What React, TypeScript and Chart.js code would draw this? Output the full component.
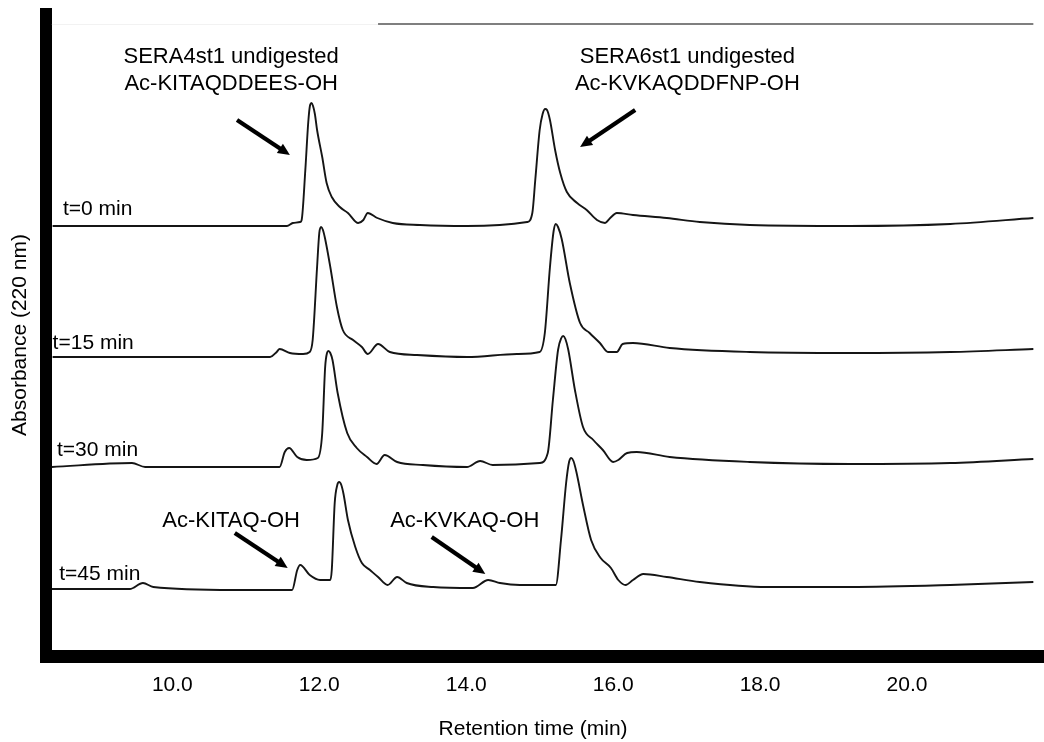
import React, { useEffect, useRef } from "react";
import { Chart, registerables } from "chart.js";

Chart.register(...registerables);

const FONT = "'Liberation Sans', Arial, Helvetica, sans-serif";

// Chromatograms: [retention time (min), absorbance above baseline (mAU)]
const trace0: [number, number][] = [
  [8.37, 0], [9.01, 0], [11.56, 0], [11.64, 1.5], [11.74, 2], [11.76, 3], [11.81, 28], [11.85, 52],
  [11.875, 60.5], [11.895, 61.5], [11.915, 60], [11.94, 56], [11.97, 48], [12.04, 34.5], [12.10, 21.5],
  [12.17, 14.5], [12.28, 9.5], [12.39, 6.5], [12.53, 1.5], [12.60, 3], [12.66, 6.5], [12.79, 4],
  [13.00, 1.5], [13.37, 0.5], [14.01, 0], [14.83, 2], [14.90, 6.5], [14.94, 23], [15.00, 48],
  [15.04, 56], [15.075, 58.5], [15.10, 58], [15.14, 53], [15.21, 38], [15.28, 26.5], [15.37, 17],
  [15.51, 11.5], [15.64, 8], [15.78, 3], [15.89, 1.5], [15.96, 4], [16.05, 6.5], [16.27, 5.5],
  [16.73, 4], [17.18, 2], [17.86, 0.5], [19.22, 0], [20.59, 1], [21.72, 4],
];
const trace15: [number, number][] = [
  [8.37, 0], [11.33, 0], [11.42, 2.5], [11.46, 4], [11.60, 2], [11.78, 1.5], [11.87, 2.5], [11.91, 8.5],
  [11.97, 45], [12.00, 62], [12.025, 65], [12.05, 63.5], [12.08, 59], [12.15, 45], [12.24, 25],
  [12.32, 13.5], [12.46, 8.5], [12.58, 5], [12.66, 1.5], [12.80, 6.5], [12.96, 2.5], [13.33, 1],
  [14.01, 0], [14.69, 1.5], [15.00, 2.5], [15.07, 12], [15.14, 45], [15.19, 63], [15.22, 66.5],
  [15.25, 65], [15.30, 59], [15.41, 37], [15.55, 17], [15.68, 12], [15.82, 7], [15.93, 2.5],
  [16.05, 2.5], [16.13, 6.5], [16.27, 7], [16.77, 4.5], [17.86, 2.5], [19.22, 2], [20.59, 2.5],
  [21.72, 4],
];
const trace30: [number, number][] = [
  [8.36, 0], [9.45, 2], [9.63, 0], [11.46, 0], [11.53, 7.5], [11.59, 9.5], [11.70, 5], [11.83, 3.5],
  [11.98, 4.5], [12.04, 17], [12.08, 50], [12.105, 57], [12.125, 58], [12.15, 57], [12.18, 53.5],
  [12.25, 37], [12.38, 17], [12.51, 9.5], [12.65, 5], [12.78, 1.5], [12.89, 6], [13.06, 2.5],
  [13.41, 1], [14.01, 0], [14.19, 3], [14.36, 1], [15.00, 2], [15.11, 7], [15.18, 33.5],
  [15.25, 58.5], [15.295, 64.5], [15.32, 65.5], [15.35, 64], [15.39, 58.5], [15.48, 38.5],
  [15.59, 20], [15.73, 13.5], [15.86, 8.5], [16.00, 2.5], [16.07, 3.5], [16.19, 7], [16.32, 7.5],
  [16.77, 5], [17.86, 2.5], [19.22, 1.5], [20.59, 2], [21.72, 4],
];
const trace45: [number, number][] = [
  [8.36, 0], [9.42, 0], [9.60, 3], [9.74, 1], [10.83, -0.5], [11.63, -0.5], [11.70, 9.5], [11.74, 12],
  [11.87, 7], [12.01, 4.5], [12.15, 4.5], [12.17, 9.5], [12.21, 43], [12.245, 52], [12.27, 53.5],
  [12.30, 52], [12.33, 47.5], [12.39, 34.5], [12.49, 21], [12.58, 13], [12.69, 9.5], [12.80, 6],
  [12.93, 2], [13.06, 6], [13.19, 3], [13.55, 1], [14.09, 0.5], [14.30, 4.5], [14.46, 3],
  [14.73, 2], [15.22, 2], [15.29, 24.5], [15.36, 53], [15.40, 63.5], [15.43, 65.5], [15.46, 64],
  [15.50, 58.5], [15.59, 42], [15.70, 24.5], [15.83, 15.5], [15.97, 10.5], [16.07, 4.5], [16.17, 2],
  [16.27, 4.5], [16.41, 7.5], [16.73, 6], [17.18, 3.5], [18.09, 1], [19.22, 1], [20.59, 2],
  [21.72, 3.5],
];

// Vertical offsets used to stack the chromatograms (mAU)
const traceOffsets = [215, 149.5, 94.5, 33.5];
const traceNames = ["t=0 min", "t=15 min", "t=30 min", "t=45 min"];
const traceLabelTime = [8.51, 8.37, 8.43, 8.46];
const traceLabelAbs = [223.5, 156.5, 103, 41];

// x axis ticks
const xTicks = [10, 12, 14, 16, 18, 20];
const xMin = 8.28;
const xMax = 21.865;
const yMin = 0;
const yMax = 321;

// Annotations: text block centres (time, absorbance)
const noteLines = [
  ["SERA4st1 undigested", "Ac-KITAQDDEES-OH"],
  ["SERA6st1 undigested", "Ac-KVKAQDDFNP-OH"],
  ["Ac-KITAQ-OH"],
  ["Ac-KVKAQ-OH"],
];
const noteTime = [10.80, 17.01, 10.80, 13.98];
const noteAbs = [292.8, 292.8, 67.5, 67.5];

// Arrows: [fromTime, fromAbs, toTime, toAbs]
const arrowList = [
  [10.88, 268, 11.60, 250.5],
  [16.30, 273, 15.55, 254.5],
  [10.85, 61.5, 11.57, 44],
  [13.53, 59.5, 14.26, 41],
];

// Top frame rule
const topRuleAbs = 316;
const topRuleFaint = [8.36, 12.80];
const topRuleDark = [12.80, 21.72];

function drawArrow(ctx: CanvasRenderingContext2D, x1: number, y1: number, x2: number, y2: number) {
  const ang = Math.atan2(y2 - y1, x2 - x1);
  const head = 12;
  const hw = 5.5;
  const bx = x2 - head * Math.cos(ang);
  const by = y2 - head * Math.sin(ang);
  ctx.lineWidth = 4.2;
  ctx.lineCap = "butt";
  ctx.beginPath();
  ctx.moveTo(x1, y1);
  ctx.lineTo(bx + Math.cos(ang) * 2, by + Math.sin(ang) * 2);
  ctx.stroke();
  ctx.beginPath();
  ctx.moveTo(x2, y2);
  ctx.lineTo(bx + hw * Math.sin(ang), by - hw * Math.cos(ang));
  ctx.lineTo(bx - hw * Math.sin(ang), by + hw * Math.cos(ang));
  ctx.closePath();
  ctx.fill();
}

const notesPlugin = {
  id: "notes",
  afterDatasetsDraw(chart: any) {
    const { ctx } = chart;
    const xs = chart.scales.x;
    const ys = chart.scales.y;
    const X = (v: number) => xs.getPixelForValue(v);
    const Y = (v: number) => ys.getPixelForValue(v);
    ctx.save();
    // top rule
    ctx.lineWidth = 1;
    ctx.strokeStyle = "#f2f2f2";
    ctx.beginPath();
    ctx.moveTo(X(topRuleFaint[0]), Math.round(Y(topRuleAbs)) + 0.5);
    ctx.lineTo(X(topRuleFaint[1]), Math.round(Y(topRuleAbs)) + 0.5);
    ctx.stroke();
    ctx.lineWidth = 1.5;
    ctx.strokeStyle = "#555";
    ctx.beginPath();
    ctx.moveTo(X(topRuleDark[0]), Y(topRuleAbs));
    ctx.lineTo(X(topRuleDark[1]), Y(topRuleAbs));
    ctx.stroke();

    ctx.fillStyle = "#000";
    ctx.strokeStyle = "#000";
    ctx.textBaseline = "middle";
    ctx.textAlign = "center";
    ctx.font = `22px ${FONT}`;
    noteLines.forEach((lines, i) => {
      const cx = X(noteTime[i]);
      const cy = Y(noteAbs[i]);
      const lh = 27;
      const top = cy - ((lines.length - 1) * lh) / 2;
      lines.forEach((s, j) => ctx.fillText(s, cx, top + j * lh));
    });
    arrowList.forEach((a) => drawArrow(ctx, X(a[0]), Y(a[1]), X(a[2]), Y(a[3])));

    ctx.textAlign = "left";
    ctx.font = `21px ${FONT}`;
    traceNames.forEach((s, i) => ctx.fillText(s, X(traceLabelTime[i]), Y(traceLabelAbs[i])));

    // x axis title
    ctx.textAlign = "center";
    ctx.font = `21px ${FONT}`;
    ctx.fillText("Retention time (min)", X(14.91), 729.5);
    ctx.restore();
  },
};

export default function App() {
  const ref = useRef<HTMLCanvasElement>(null);
  useEffect(() => {
    const traces = [trace0, trace15, trace30, trace45];
    const chart = new Chart(ref.current as HTMLCanvasElement, {
      type: "line",
      data: {
        datasets: traces.map((tr, i) => ({
          label: traceNames[i],
          data: tr.map(([t, a]) => ({ x: t, y: a + traceOffsets[i] })),
          borderColor: "#151515",
          borderWidth: 1.9,
          pointRadius: 0,
          fill: false,
          cubicInterpolationMode: "monotone" as const,
        })),
      },
      options: {
        animation: false,
        responsive: false,
        devicePixelRatio: 1,
        layout: { padding: { top: 14, left: 0, right: 0, bottom: 0 } },
        plugins: { legend: { display: false }, tooltip: { enabled: false } },
        scales: {
          x: {
            type: "linear",
            min: xMin,
            max: xMax,
            grid: { display: false, drawTicks: false },
            border: { display: true, width: 13, color: "#000" },
            afterBuildTicks: (s: any) => {
              s.ticks = xTicks.map((v) => ({ value: v }));
            },
            afterFit: (s: any) => {
              s.height = 86;
            },
            ticks: {
              padding: 17,
              color: "#000",
              autoSkip: false,
              maxRotation: 0,
              font: { family: FONT, size: 21 },
              callback: (v: any) => Number(v).toFixed(1),
            },
          },
          y: {
            type: "linear",
            min: yMin,
            max: yMax,
            grid: { display: false, drawTicks: false },
            border: { display: true, width: 12, color: "#000" },
            ticks: { display: false },
            afterFit: (s: any) => {
              s.width = 46;
            },
            title: {
              display: true,
              text: "Absorbance (220 nm)",
              color: "#000",
              font: { family: FONT, size: 21 },
              padding: { top: 8, bottom: 0 },
            },
          },
        },
      },
      plugins: [notesPlugin],
    } as any);
    return () => chart.destroy();
  }, []);
  return (
    <div style={{ position: "fixed", left: 0, top: 0, width: 1044, height: 742, background: "#fff" }}>
      <canvas ref={ref} width={1044} height={742} />
    </div>
  );
}
